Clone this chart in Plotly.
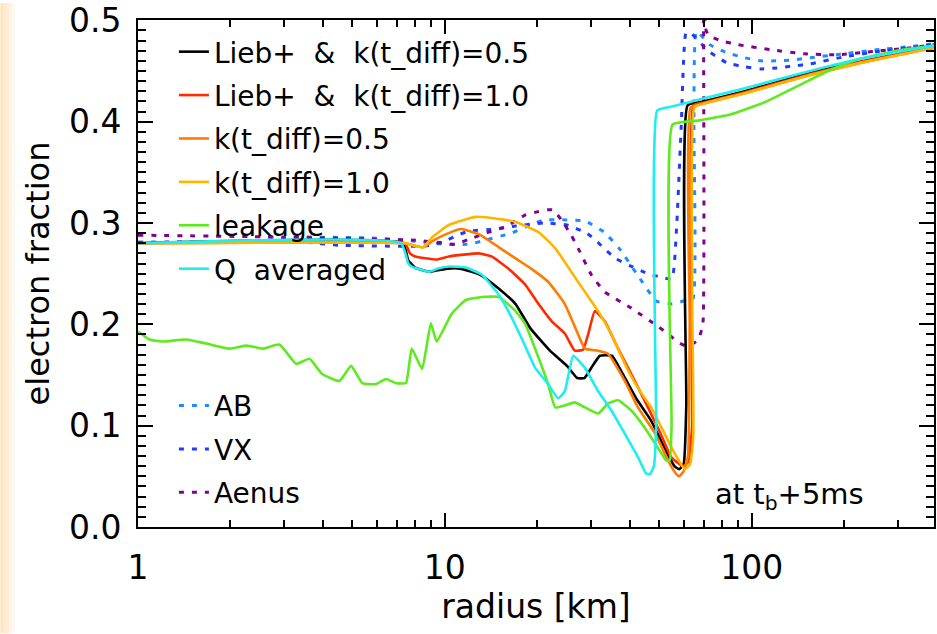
import plotly.graph_objects as go

# ---------------- data (radius in km, electron fraction) ----------------
r_lieb05 = [1, 7.3, 7.6, 8.0, 8.9, 10.2, 11.2, 13.0, 15, 17, 19, 22, 25, 27, 28.5, 30, 32, 35, 38, 42, 47, 52,
            56, 58, 60, 61.2, 61.8, 70, 95, 155, 226, 328, 393]
ye_lieb05 = [0.280, 0.280, 0.263, 0.256, 0.252, 0.255, 0.255, 0.249, 0.235, 0.220, 0.196, 0.174, 0.159, 0.147,
             0.147, 0.157, 0.169, 0.169, 0.151, 0.127, 0.105, 0.078, 0.060, 0.057, 0.062, 0.12, 0.416, 0.420,
             0.430, 0.448, 0.459, 0.469, 0.473]

r_lieb10 = [1, 7.4, 7.7, 8.0, 9.4, 10.3, 12.9, 14.2, 16.1, 18.3, 20.2, 22.3, 24.6, 26.5, 28.2, 29.3, 30.8, 33.2,
            36.7, 40.5, 45.9, 50.5, 54.6, 59.6, 62, 64, 64.6, 70, 95, 155, 226, 328, 393]
ye_lieb10 = [0.280, 0.280, 0.270, 0.267, 0.264, 0.267, 0.270, 0.267, 0.255, 0.239, 0.220, 0.203, 0.191, 0.174,
             0.175, 0.190, 0.213, 0.203, 0.176, 0.151, 0.118, 0.092, 0.069, 0.060, 0.064, 0.10, 0.416, 0.419,
             0.429, 0.447, 0.459, 0.469, 0.473]

r_k05 = [1, 7.4, 8.5, 9.1, 10.1, 11.3, 12.9, 15, 17, 19.1, 21.7, 24.6, 27.2, 28.6, 31.6, 34, 38.6, 42.6, 48.5,
         53.3, 56.5, 58, 60, 62, 62.8, 63.2, 70, 95, 155, 226, 328, 393]
ye_k05 = [0.280, 0.280, 0.276, 0.282, 0.289, 0.294, 0.289, 0.276, 0.265, 0.255, 0.242, 0.220, 0.190, 0.176, 0.174,
          0.171, 0.144, 0.118, 0.092, 0.066, 0.053, 0.050, 0.055, 0.070, 0.20, 0.414, 0.418, 0.428, 0.446, 0.458,
          0.468, 0.473]

r_k10 = [1, 7.4, 8.5, 9.1, 10.3, 12.6, 15, 17, 20.2, 22.9, 25.8, 28.6, 31.6, 34.9, 38.6, 42.6, 47, 52, 56, 60.5,
         63, 64.5, 65, 70, 95, 155, 226, 328, 393]
ye_k10 = [0.280, 0.280, 0.276, 0.286, 0.298, 0.306, 0.304, 0.301, 0.291, 0.275, 0.252, 0.232, 0.213, 0.190, 0.161,
          0.137, 0.118, 0.092, 0.073, 0.057, 0.062, 0.09, 0.414, 0.418, 0.428, 0.446, 0.458, 0.468, 0.473]

r_leak = [1, 1.09, 1.2, 1.44, 1.67, 1.99, 2.26, 2.55, 2.89, 3.28, 3.62, 3.98, 4.53, 4.95, 5.38, 5.97, 6.43, 6.93,
          7.47, 7.8, 8.43, 9.0, 9.4, 10.5, 11.7, 13.2, 15, 17, 18.3, 20.2, 21.7, 22.9, 24.6, 26.5, 28.6, 31.6, 34,
          36.7, 40.5, 44.8, 49.5, 52.5, 54, 54.8, 55.2, 66.8, 85, 110, 141, 180, 220, 297, 393]
ye_leak = [0.193, 0.185, 0.183, 0.185, 0.181, 0.176, 0.179, 0.176, 0.180, 0.161, 0.166, 0.151, 0.144, 0.159, 0.142,
           0.141, 0.146, 0.142, 0.142, 0.176, 0.156, 0.201, 0.183, 0.210, 0.224, 0.227, 0.227, 0.213, 0.200, 0.167,
           0.141, 0.118, 0.120, 0.123, 0.118, 0.112, 0.122, 0.125, 0.115, 0.098, 0.078, 0.066, 0.065, 0.10, 0.397,
           0.401, 0.407, 0.419, 0.435, 0.451, 0.461, 0.470, 0.475]

r_qavg = [1, 7.2, 7.6, 7.8, 8.9, 9.5, 10.3, 11.7, 13.2, 15, 16.1, 17.8, 19.7, 21.7, 23.4, 24.6, 26.2, 28.6, 31.6,
          34.9, 38.6, 42.6, 45.2, 46.5, 48, 48.8, 49.2, 55, 62, 70, 95, 155, 226, 328, 393]
ye_qavg = [0.280, 0.280, 0.260, 0.257, 0.252, 0.255, 0.257, 0.256, 0.249, 0.229, 0.213, 0.186, 0.157, 0.141, 0.127,
           0.134, 0.169, 0.157, 0.134, 0.115, 0.092, 0.069, 0.053, 0.052, 0.060, 0.10, 0.411, 0.415, 0.419, 0.423,
           0.433, 0.450, 0.462, 0.471, 0.475]

r_ab = [1, 2.5, 3.2, 6, 8, 10, 12, 13.5, 16.5, 19, 21, 25, 28.6, 33, 37, 42.6, 48.8, 55, 60, 64.3, 64.8, 66, 73,
        83, 95, 107, 121, 137, 155, 200, 255, 328, 393]
ye_ab = [0.281, 0.282, 0.286, 0.285, 0.282, 0.279, 0.279, 0.283, 0.290, 0.298, 0.303, 0.303, 0.302, 0.291, 0.275,
         0.248, 0.223, 0.220, 0.223, 0.225, 0.40, 0.489, 0.476, 0.468, 0.463, 0.460, 0.460, 0.461, 0.463, 0.467,
         0.471, 0.474, 0.477]

r_vx = [1, 3.5, 4.5, 8, 9, 10, 11, 12, 14.6, 17, 21, 25, 29, 31, 33, 36, 40, 45.9, 51.4, 55, 57, 59, 61, 63, 67,
        72, 76, 83, 95, 107, 121, 137, 155, 200, 255, 328, 393]
ye_vx = [0.281, 0.281, 0.278, 0.277, 0.278, 0.282, 0.288, 0.292, 0.294, 0.297, 0.300, 0.298, 0.290, 0.283, 0.275,
         0.265, 0.258, 0.250, 0.246, 0.245, 0.30, 0.40, 0.487, 0.488, 0.480, 0.470, 0.465, 0.458, 0.454, 0.452,
         0.453, 0.455, 0.457, 0.464, 0.469, 0.473, 0.476]

r_aenus = [1, 3, 8, 9.4, 10.8, 12, 13.9, 15.7, 17.4, 18.3, 20, 21.7, 22.5, 24, 25.8, 27.2, 30, 33.2, 40.5, 49.5,
           54.6, 57, 62, 67, 69.3, 69.8, 71, 72.5, 79, 90, 115, 148, 190, 243, 312, 393]
ye_aenus = [0.288, 0.286, 0.283, 0.281, 0.279, 0.284, 0.291, 0.296, 0.304, 0.308, 0.311, 0.313, 0.313, 0.303,
            0.288, 0.275, 0.249, 0.232, 0.216, 0.198, 0.188, 0.183, 0.178, 0.185, 0.20, 0.52, 0.490, 0.485, 0.480,
            0.476, 0.471, 0.467, 0.466, 0.469, 0.472, 0.476]

y_ticks = [0.0, 0.1, 0.2, 0.3, 0.4, 0.5]
x_ticks = [1, 10, 100]

NB = "\u00a0"
solid_series = [
    ("Lieb+" + NB + " &amp; " + NB + "k(t_diff)=0.5", r_lieb05, ye_lieb05, "#000000"),
    ("Lieb+" + NB + " &amp; " + NB + "k(t_diff)=1.0", r_lieb10, ye_lieb10, "#FF2A00"),
    ("k(t_diff)=0.5", r_k05, ye_k05, "#FF7A00"),
    ("k(t_diff)=1.0", r_k10, ye_k10, "#FFB400"),
    ("leakage", r_leak, ye_leak, "#5EEA1E"),
    ("Q" + NB + " averaged", r_qavg, ye_qavg, "#1EEEEE"),
]
dotted_series = [
    ("AB", r_ab, ye_ab, "#1E8CFF"),
    ("VX", r_vx, ye_vx, "#1E3CFF"),
    ("Aenus", r_aenus, ye_aenus, "#800090"),
]

FONT = "DejaVu Sans"
fig = go.Figure()

for i, (name, r, ye, col) in enumerate(dotted_series):
    fig.add_trace(go.Scatter(x=r, y=ye, mode="lines", name=name, legend="legend2",
                             legendgroup="d%d" % i,
                             line=dict(color=col, width=3, dash="5px,8px", shape="spline", smoothing=0.4)))
for i, (name, r, ye, col) in enumerate(solid_series):
    fig.add_trace(go.Scatter(x=r, y=ye, mode="lines", name=name, legend="legend",
                             legendgroup="s%d" % i,
                             line=dict(color=col, width=2.6, shape="spline", smoothing=0.4)))

# pale orange strip at the very left of the image (page decoration)
strip_cols = ["#FCE4BE", "#FDE8C8", "#FDEDD6", "#FEF3E4", "#FFF9F2"]
for k, c in enumerate(strip_cols):
    fig.add_shape(type="rect", xref="paper", yref="paper",
                  x0=(3 * k - 138) / 798, x1=(3 * k + 3 - 138) / 798,
                  y0=-107 / 510, y1=1 + 17 / 510, fillcolor=c, line_width=0, layer="below")

fig.add_annotation(text="at t<sub>b</sub>+5ms", xref="paper", yref="paper",
                   x=(714 - 138) / 798, y=(527 - 496) / 510, xanchor="left", yanchor="middle",
                   showarrow=False, font=dict(family=FONT, size=29, color="black"))

axis_common = dict(showline=True, linecolor="black", linewidth=2, mirror="ticks",
                   ticks="inside", tickcolor="black", tickwidth=1.5, showgrid=False, zeroline=False,
                   ticklabeloverflow="allow",
                   tickfont=dict(family=FONT, size=33, color="black"))

fig.update_xaxes(type="log", range=[0, 2.594], tickvals=x_ticks, ticktext=[str(v) for v in x_ticks], ticklen=14,
                 minor=dict(ticks="inside", ticklen=7, dtick="D1", tickcolor="black", tickwidth=1.5, showgrid=False),
                 title=dict(text="radius [km]", font=dict(family=FONT, size=33, color="black"), standoff=8),
                 ticklabelstandoff=10, **axis_common)
fig.update_yaxes(range=[0, 0.5003], tickvals=y_ticks, ticktext=["%.1f" % v for v in y_ticks], ticklen=15,
                 minor=dict(ticks="inside", ticklen=8, dtick=0.01, tickcolor="black", tickwidth=1.5, showgrid=False),
                 title=dict(text="electron fraction", font=dict(family=FONT, size=32, color="black"), standoff=10),
                 ticklabelstandoff=8, **axis_common)

fig.update_layout(
    width=937, height=634,
    margin=dict(l=138, r=1, t=17, b=107),
    paper_bgcolor="white", plot_bgcolor="white",
    font=dict(family=FONT, color="black"),
    legend=dict(x=(174 - 138) / 798, y=(527 - 24) / 510, xanchor="left", yanchor="top",
                bgcolor="rgba(0,0,0,0)", font=dict(family=FONT, size=28, color="black"),
                traceorder="grouped", tracegroupgap=4, itemwidth=30),
    legend2=dict(x=(174 - 138) / 798, y=(527 - 380) / 510, xanchor="left", yanchor="top",
                 bgcolor="rgba(0,0,0,0)", font=dict(family=FONT, size=28, color="black"),
                 traceorder="grouped", tracegroupgap=4, itemwidth=30),
    showlegend=True,
)

fig.write_html("out.html")
